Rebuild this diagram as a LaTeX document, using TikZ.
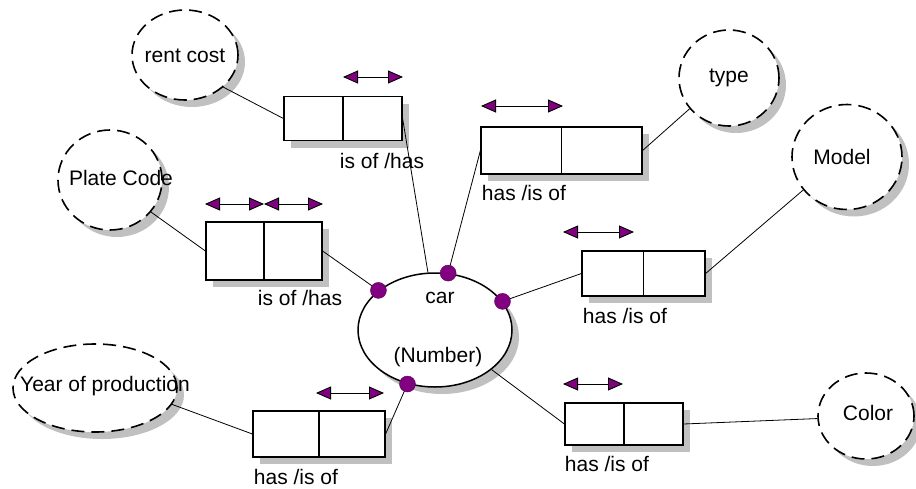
\documentclass[tikz,border=0pt]{standalone}
\usepackage{fontspec}
\setmainfont{Liberation Sans}
\usetikzlibrary{shapes.geometric,shadows,arrows.meta,calc}
\definecolor{pur}{RGB}{128,0,128}
\definecolor{shade}{RGB}{192,192,192}
\begin{document}
\begin{tikzpicture}[x=1pt,y=-1pt,
  font=\fontsize{21}{24}\selectfont,
  shadowed/.style={drop shadow={shadow xshift=7pt,shadow yshift=-7pt,fill=shade,opacity=1}},
  attr/.style={ellipse,draw,fill=white,line width=1.6pt,dash pattern=on 13pt off 7pt,
    inner sep=0pt,shadowed},
  entity/.style={ellipse,draw,fill=white,line width=1.5pt,inner sep=0pt,shadowed},
  rolebox/.style={rectangle,draw,fill=white,line width=1.2pt,inner sep=0pt,shadowed,
    path picture={\draw[line width=1.2pt] (path picture bounding box.north) -- (path picture bounding box.south);}},
  link/.style={draw,line width=0.8pt},
  dot/.style={circle,fill=pur,draw=pur!70!black,line width=0.4pt,minimum size=16pt,inner sep=0pt},
  dirarrow/.style={line width=0.9pt,
    {Triangle[length=15pt,width=13pt,fill=pur]}-{Triangle[length=15pt,width=13pt,fill=pur]}},
  txt/.style={inner sep=0pt}]
\useasboundingbox (0,0) rectangle (916,488);

% attribute ellipses (dashed)
\node[attr,minimum width=106pt,minimum height=90pt] (rent) at (185,55) {};
\node[attr,minimum width=100pt,minimum height=96pt] (type) at (729,78) {};
\node[attr,minimum width=104pt,minimum height=100pt] (plate) at (110,180) {};
\node[attr,minimum width=110pt,minimum height=105pt] (model) at (847,157) {};
\node[attr,minimum width=164pt,minimum height=88pt] (year) at (95,388) {};
\node[attr,minimum width=96pt,minimum height=86pt] (color) at (866,416) {};

\node[txt] (trent) at (185,56) {rent cost};
\node[txt] (ttype) at (729,78) {type};
\node[txt] (tplate) at (121,178) {Plate Code};
\node[txt] (tmodel) at (842,157) {Model};
\node[txt] (tyear) at (105,386) {Year of production};
\node[txt] (tcolor) at (868,413) {Color};

% central entity
\node[entity,minimum width=154pt,minimum height=114pt] (car) at (435,330) {};
\node[txt] (tcar) at (440,298) {car};
\node[txt] (tnum) at (438,357) {(Number)};

% role boxes
\node[rolebox,minimum width=118pt,minimum height=44pt] (b1) at (343,118.5) {};
\node[rolebox,minimum width=161pt,minimum height=47pt] (b2) at (561.5,150.5) {};
\node[rolebox,minimum width=116pt,minimum height=58pt] (b3) at (264,251) {};
\node[rolebox,minimum width=123pt,minimum height=45pt] (b4) at (643.5,273.5) {};
\node[rolebox,minimum width=118pt,minimum height=42pt] (b5) at (624,424) {};
\node[rolebox,minimum width=132pt,minimum height=46pt] (b6) at (319,434) {};

% role labels
\node[txt] (l1) at (382,161) {is of /has};
\node[txt] (l2) at (524,193) {has /is of};
\node[txt] (l3) at (300,298) {is of /has};
\node[txt] (l4) at (625,316) {has /is of};
\node[txt] (l5) at (607,464) {has /is of};
\node[txt] (l6) at (296,477) {has /is of};

% connection dots on the entity
\coordinate (p1) at (car.145);
\coordinate (p2) at (car.77);
\coordinate (p3) at (car.23);
\coordinate (p4) at (car.243);

% connectors
\draw[link] (rent.-40) -- (b1.west);
\draw[link] (b1.east) -- (car.97);
\draw[link] (p2) -- (b2.west);
\draw[link] (b2.east) -- (type.218);
\draw[link] (plate.-38) -- (b3.west);
\draw[link] (b3.east) -- (p1);
\draw[link] (p3) -- (b4.west);
\draw[link] (b4.east) -- (model.217);
\draw[link] (car.-35) -- (b5.west);
\draw[link] (b5.east) -- (color.183);
\draw[link] (year.-12) -- (b6.west);
\draw[link] (b6.east) -- (p4);

\node[dot] (d1) at (p1) {};
\node[dot] (d2) at (p2) {};
\node[dot] (d3) at (p3) {};
\node[dot] (d4) at (p4) {};

% reading-direction arrows
\coordinate (a1l) at (343,77);  \coordinate (a1r) at (403,77);
\coordinate (a2l) at (481,106); \coordinate (a2r) at (563,106);
\coordinate (a3l) at (205,204); \coordinate (a3m) at (264,204); \coordinate (a3r) at (323,204);
\coordinate (a4l) at (563,232); \coordinate (a4r) at (634,232);
\coordinate (a5l) at (563,384); \coordinate (a5r) at (623,384);
\coordinate (a6l) at (316,393); \coordinate (a6r) at (384,393);
\draw[dirarrow] (a1l) -- (a1r);
\draw[dirarrow] (a2l) -- (a2r);
\draw[dirarrow] (a3l) -- (a3m);
\draw[dirarrow] (a3m) -- (a3r);
\draw[dirarrow] (a4l) -- (a4r);
\draw[dirarrow] (a5l) -- (a5r);
\draw[dirarrow] (a6l) -- (a6r);
\end{tikzpicture}
\end{document}
